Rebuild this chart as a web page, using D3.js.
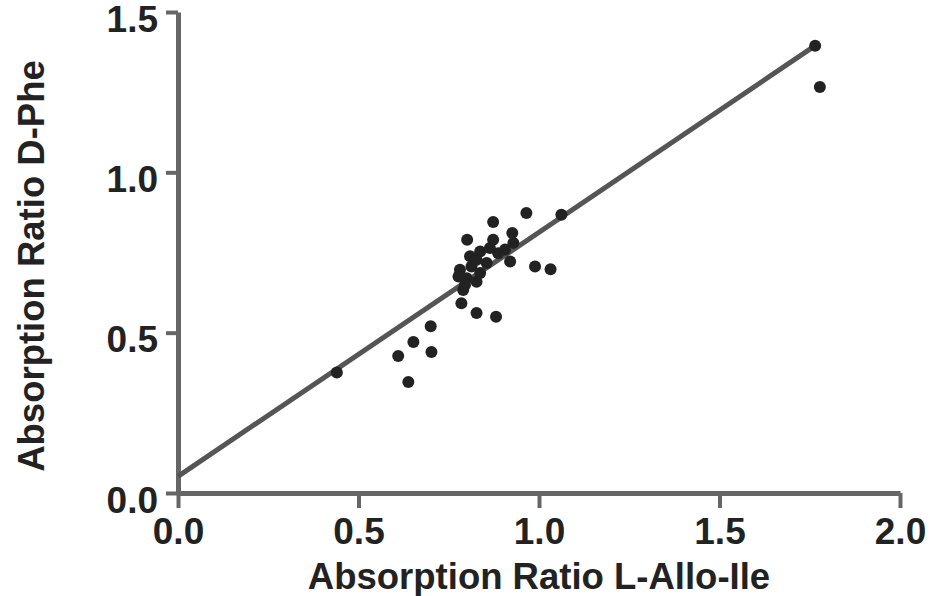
<!DOCTYPE html>
<html><head><meta charset="utf-8">
<script src="https://cdn.jsdelivr.net/npm/d3@7/dist/d3.min.js"></script>
<style>body{margin:0;background:#fff}svg{display:block}</style>
</head><body><svg id="c" width="932" height="596"></svg>
<script>
const xTicks = [0.0, 0.5, 1.0, 1.5, 2.0];
const yTicks = [0.0, 0.5, 1.0, 1.5];
const xTitle = "Absorption Ratio L-Allo-Ile";
const yTitle = "Absorption Ratio D-Phe";
const xValues = [0.965,0.873,1.062,0.801,0.926,0.929,0.873,0.989,1.032,0.827,0.881,0.700,0.652,0.702,0.610,0.638,0.785,0.790,
  0.781,0.777,0.800,0.813,0.809,0.837,0.827,0.855,0.837,0.827,0.795,0.864,0.887,0.906,0.920,0.440,1.778,1.765];
const yValues = [0.873,0.845,0.868,0.790,0.811,0.780,0.790,0.706,0.698,0.561,0.550,0.520,0.471,0.440,0.427,0.346,0.592,0.633,
  0.696,0.675,0.670,0.706,0.738,0.753,0.727,0.717,0.686,0.659,0.649,0.764,0.748,0.759,0.722,0.376,1.266,1.395];
const fitX = [0.0, 1.765];
const fitY = [0.052, 1.395];

const svg = d3.select("#c");
const x = d3.scaleLinear().domain([0, 2]).range([178, 900]);
const y = d3.scaleLinear().domain([0, 1.5]).range([493, 12]);
const ink = "#222";
const axisInk = "#666";
const font = "'Liberation Sans', Arial, Helvetica, sans-serif";

const xa = svg.append("g").attr("transform", "translate(0,493)")
  .call(d3.axisBottom(x).tickValues(xTicks).tickFormat(d3.format(".1f")).tickSize(15).tickPadding(10).tickSizeOuter(0));
const ya = svg.append("g").attr("transform", "translate(178,0)")
  .call(d3.axisLeft(y).tickValues(yTicks).tickFormat(d3.format(".1f")).tickSize(12).tickPadding(8).tickSizeOuter(0));
[xa, ya].forEach(g => {
  g.select(".domain").attr("stroke", axisInk).attr("stroke-width", 5);
  g.selectAll(".tick line").attr("stroke", axisInk).attr("stroke-width", 4);
  g.selectAll(".tick text").attr("fill", ink).attr("font-family", font)
    .attr("font-weight", "bold").attr("font-size", 37);
});
ya.selectAll(".tick text").attr("dy", "0.52em");

svg.append("line")
  .attr("x1", x(fitX[0])).attr("y1", y(fitY[0]))
  .attr("x2", x(fitX[1])).attr("y2", y(fitY[1]))
  .attr("stroke", "#555").attr("stroke-width", 5);

svg.append("g").selectAll("circle").data(xValues.map((v, i) => [v, yValues[i]]))
  .join("circle")
  .attr("cx", d => x(d[0])).attr("cy", d => y(d[1])).attr("r", 6)
  .attr("fill", ink);

svg.append("text").attr("x", 539).attr("y", 589).attr("text-anchor", "middle")
  .attr("font-family", font).attr("font-weight", "bold").attr("font-size", 36.5)
  .attr("fill", ink).text(xTitle);
svg.append("text").attr("transform", "translate(44,266) rotate(-90)").attr("text-anchor", "middle")
  .attr("font-family", font).attr("font-weight", "bold").attr("font-size", 36.5)
  .attr("fill", ink).text(yTitle);
</script></body></html>
